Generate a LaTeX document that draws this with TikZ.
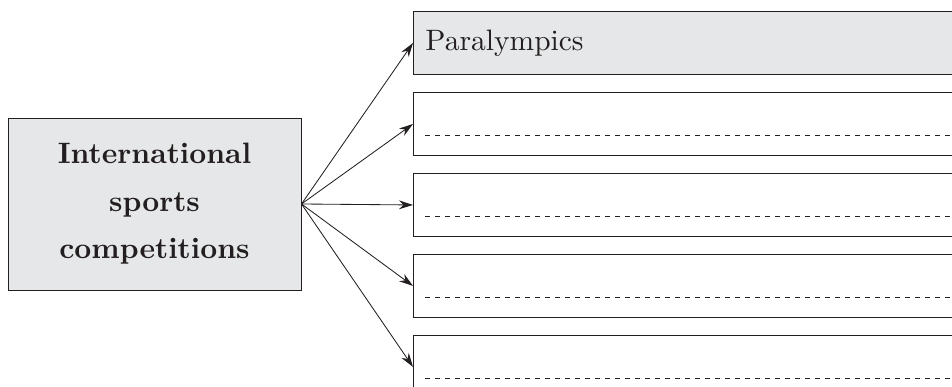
\documentclass[tikz,border=0pt]{standalone}
\usepackage{fontspec}
\setmainfont{lmroman10-regular.otf}[BoldFont = lmroman10-bold.otf]
\usepackage{xcolor}
\usepackage{tikz}
\usetikzlibrary{positioning, arrows.meta}
\definecolor{inkgray}{HTML}{231F20}
\definecolor{boxgray}{HTML}{E6E7E8}
\tikzset{
    topicbox/.style={
        draw = inkgray, fill = boxgray,
        line width = 0.7pt,
        minimum width = 7.325cm,
        minimum height = 4.3cm,
        align = center,
        text = inkgray,
        font = \fontsize{21}{33.8}\selectfont\bfseries
    },
    answerbox/.style={
        draw = inkgray,
        line width = 0.7pt,
        minimum width = 14cm,
        minimum height = 1.575cm,
        text width = 13.4cm,
        inner xsep = 0.3cm,
        align = left,
        text = inkgray,
        font = \fontsize{21}{25}\selectfont
    },
    line/.style = {-{Stealth[length=0.35cm, width=0.22cm]}, line width = 0.6pt, inkgray},
    blank/.style = {dash pattern = on 0.12cm off 0.13cm, line width = 0.5pt, inkgray}
}

\begin{document}
\begin{tikzpicture}

    \clip (0,0) rectangle (23.8,9.675);

    % Topic shape
    \node[topicbox] (topic) at (3.8625,4.575) {International\\sports\\competitions};

    % Answer boxes
    \node[answerbox, fill = boxgray, anchor = north west] (ans1) at (10.325,9.4) {\strut Paralympics};
    \node[answerbox, below = 0.425 of ans1] (ans2) {};
    \node[answerbox, below = 0.425 of ans2] (ans3) {};
    \node[answerbox, below = 0.425 of ans3] (ans4) {};
    \node[answerbox, below = 0.425 of ans4] (ans5) {};

    % Lines
    \foreach \i in {1,...,5}
        \draw[line] (topic.east) -- (ans\i.west);
    \foreach \i in {2,...,5}
        \draw[blank] ([shift={(0.3,-0.275)}]ans\i.west) -- ([yshift=-0.275cm]ans\i.east);

\end{tikzpicture}
\end{document}
